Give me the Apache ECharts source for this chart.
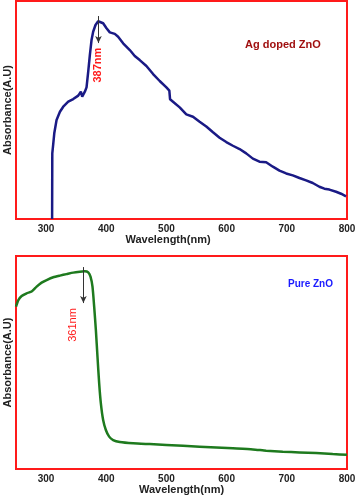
<!DOCTYPE html>
<html>
<head>
<meta charset="utf-8">
<script src="https://cdn.jsdelivr.net/npm/echarts@6/dist/echarts.min.js"></script>
<style>html,body{margin:0;padding:0;background:#fff}#c{width:357px;height:500px}</style>
</head>
<body>
<div id="c"></div>
<script>
// X tick range (labels shown every 100 nm)
var xMin = 250, xMax = 800, xInterval = 50, xLabelStep = 100;

// Ag doped ZnO absorbance (arbitrary units)
var agWavelength = [310,310.3,311.9,313.6,317.4,323.0,328.5,336.8,345.1,353.4,357.8,360.0,362.2,364.4,367.2,370.0,372.7,375.5,378.2,382.1,386.5,389.3,394.8,400.4,405.9,414.2,419.7,428.0,439.1,447.3,455.6,466.7,477.8,488.8,499.9,504.8,506.0,510.9,522.0,533.0,544.1,555.1,566.2,577.3,588.3,599.4,610.4,621.5,632.5,643.6,654.6,665.7,676.8,687.8,698.9,709.9,721.0,732.0,743.1,754.1,762.4,770.7,781.8,790.1,798.4];
var agAbsorbance = [0,30.1,34.5,39.3,45.4,49.2,51.5,53.8,55.0,56.6,58.4,56.1,55.7,58.4,60.4,67.6,75.2,82.1,85.9,89.0,90.7,90.8,89.8,87.5,85.6,84.9,83.6,80.6,77.5,74.8,72.9,70.2,66.5,63.3,60.4,58.9,54.9,53.8,51.2,48.0,46.9,44.6,42.4,39.8,37.3,35.3,33.6,32.1,30.1,27.7,26.3,26.0,24.0,22.2,20.9,20.0,18.8,17.7,16.5,14.8,13.9,13.5,12.5,11.6,10.4];

// Pure ZnO absorbance (arbitrary units)
var pureWavelength = [250,253.9,259.4,267.7,276.0,284.3,292.6,300.9,311.9,323.0,334.0,345.1,356.1,364.4,370.0,373.8,377.1,379.9,382.7,385.4,388.2,391.0,394.8,399.3,404.8,411.4,422.5,444.6,472.2,499.9,555.1,610.4,643.6,665.7,693.3,721.0,748.6,776.3,800];
var pureAbsorbance = [76.2,79.3,81.2,82.5,83.3,85.6,87.5,88.7,90.0,90.8,91.5,92.2,92.6,92.8,92.3,90.3,85.6,76.2,65.3,52.7,40.2,30.8,23.0,18.3,15.2,13.6,12.7,12.1,11.7,11.3,10.5,9.7,9.2,8.6,8.1,7.8,7.5,7.0,6.7];

// Peak annotations
var agPeak = 387, agArrowFrom = 93.1, agArrowTo = 80.7, agPeakLabelY = 70.6;
var purePeak = 362, pureArrowFrom = 94.8, pureArrowTo = 77.9, purePeakLabelY = 67.6;
var agPeakText = '387nm', purePeakText = '361nm';

function pairs(xs, ys){ return xs.map(function(x,i){ return [x, ys[i]]; }); }

var FONT = 'Liberation Sans, Arial, sans-serif';
var RED = '#ff1a1a';

function xAxisCfg(idx, pad){
  return {
    type: 'value', gridIndex: idx, min: xMin, max: xMax, interval: xInterval,
    name: 'Wavelength(nm)', nameLocation: 'middle', nameGap: 15,
    nameTextStyle: {fontFamily: FONT, fontWeight: 'bold', fontSize: 11, color: '#222', padding: pad},
    axisLine: {show: true, lineStyle: {color: RED, width: 2}},
    axisTick: {show: false},
    splitLine: {show: false},
    axisLabel: {fontFamily: FONT, fontWeight: 'bold', fontSize: 10, color: '#222', margin: 5,
      showMinLabel: true, showMaxLabel: true, hideOverlap: false,
      formatter: function(v){ return (v === xMin || v % xLabelStep !== 0) ? '' : String(v); }}
  };
}
function yAxisCfg(idx){
  return {
    type: 'value', gridIndex: idx, min: 0, max: 100,
    name: 'Absorbance(A.U)', nameLocation: 'middle', nameGap: 3, nameRotate: 90,
    nameTextStyle: {fontFamily: FONT, fontWeight: 'bold', fontSize: 11, color: '#222'},
    axisLine: {show: true, lineStyle: {color: RED, width: 2}},
    axisTick: {show: false}, axisLabel: {show: false}, splitLine: {show: false}
  };
}
function arrow(x, y1, y2){
  return {
    silent: true, symbol: ['none', 'arrow'], symbolSize: [5, 7],
    label: {show: false},
    lineStyle: {color: '#333', width: 1, type: 'solid'},
    data: [[{coord: [x, y1]}, {coord: [x, y2]}]]
  };
}

var chart = echarts.init(document.getElementById('c'), null, {renderer: 'canvas'});
chart.setOption({
  animation: false,
  backgroundColor: '#fff',
  grid: [
    {left: 16, right: 10, top: 1, height: 218, show: true, borderColor: RED, borderWidth: 2, backgroundColor: 'transparent', containLabel: false, outerBoundsMode: 'none'},
    {left: 16, right: 10, top: 256, height: 213, show: true, borderColor: RED, borderWidth: 2, backgroundColor: 'transparent', containLabel: false, outerBoundsMode: 'none'}
  ],
  xAxis: [xAxisCfg(0, [0, 27, 0, 0]), xAxisCfg(1, [0, 0, 0, 0])],
  yAxis: [yAxisCfg(0), yAxisCfg(1)],
  series: [
    {type: 'line', xAxisIndex: 0, yAxisIndex: 0, data: pairs(agWavelength, agAbsorbance),
     showSymbol: false, lineStyle: {color: '#1a1a85', width: 2.5}, itemStyle: {color: '#1a1a85'},
     markLine: arrow(agPeak, agArrowFrom, agArrowTo)},
    {type: 'line', xAxisIndex: 1, yAxisIndex: 1, data: pairs(pureWavelength, pureAbsorbance),
     showSymbol: false, smooth: 0.2, lineStyle: {color: '#1e7a1e', width: 2.5}, itemStyle: {color: '#1e7a1e'},
     markLine: arrow(purePeak, pureArrowFrom, pureArrowTo)}
  ]
});

var p1 = chart.convertToPixel({gridIndex: 0}, [agPeak, agPeakLabelY]);
var p2 = chart.convertToPixel({gridIndex: 1}, [purePeak, purePeakLabelY]);
chart.setOption({
  graphic: [
    {type: 'text', x: p1[0], y: p1[1], rotation: Math.PI/2, style: {text: agPeakText, fill: RED, font: 'bold 11px ' + FONT, align: 'center', verticalAlign: 'middle'}},
    {type: 'text', x: p2[0] - 10, y: p2[1], rotation: Math.PI/2, style: {text: purePeakText, fill: RED, font: '11px ' + FONT, align: 'center', verticalAlign: 'middle'}},
    {type: 'text', left: 245, top: 39, style: {text: 'Ag doped ZnO', fill: '#a01010', font: 'bold 11px ' + FONT}},
    {type: 'text', left: 288, top: 279, style: {text: 'Pure ZnO', fill: '#1a1aff', font: 'bold 10px ' + FONT}}
  ]
});
</script>
</body>
</html>
